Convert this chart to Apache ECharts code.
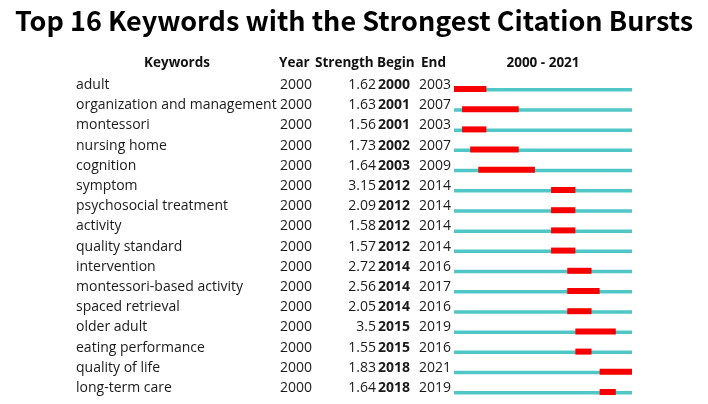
<!DOCTYPE html>
<html>
<head>
<meta charset="utf-8">
<script src="https://cdn.jsdelivr.net/npm/echarts@6/dist/echarts.min.js"></script>
<style>
  html, body { margin: 0; padding: 0; background: #fff; }
  #chart { width: 708px; height: 404px; }
</style>
</head>
<body>
<div id="chart"></div>
<script>
var keywords = ['adult', 'organization and management', 'montessori', 'nursing home', 'cognition',
  'symptom', 'psychosocial treatment', 'activity', 'quality standard', 'intervention',
  'montessori-based activity', 'spaced retrieval', 'older adult', 'eating performance',
  'quality of life', 'long-term care'];
var years = [2000, 2000, 2000, 2000, 2000, 2000, 2000, 2000, 2000, 2000, 2000, 2000, 2000, 2000, 2000, 2000];
var strengths = ['1.62', '1.63', '1.56', '1.73', '1.64', '3.15', '2.09', '1.58', '1.57', '2.72',
  '2.56', '2.05', '3.5', '1.55', '1.83', '1.64'];
var begins = [2000, 2001, 2001, 2002, 2003, 2012, 2012, 2012, 2012, 2014, 2014, 2014, 2015, 2015, 2018, 2018];
var ends = [2003, 2007, 2003, 2007, 2009, 2014, 2014, 2014, 2014, 2016, 2017, 2016, 2019, 2016, 2021, 2019];
var rangeStart = 2000;
var rangeEnd = 2021;

var FONT = 'Open Sans';
var idx = keywords.map(function (k, i) { return i; });

var chart = echarts.init(document.getElementById('chart'));

// one text column = one y axis in the text grid
var textAxis = function (offset, align, values, bold) {
  return {
    type: 'category', gridIndex: 1, inverse: true, position: 'left', offset: offset,
    data: idx,
    axisLine: { show: false }, axisTick: { show: false }, splitLine: { show: false },
    axisLabel: {
      margin: 0, align: align, color: '#1a1a1a', fontFamily: FONT, fontSize: 14,
      fontWeight: bold ? 'bold' : 'normal',
      formatter: function (v) { return values[v]; }
    }
  };
};

var header = function (x, text, align) {
  return {
    type: 'text', x: x, y: 63,
    style: { text: text, font: 'bold 13.5px "Open Sans"', fill: '#111', textAlign: align, textVerticalAlign: 'middle' }
  };
};

var option = {
  backgroundColor: '#fff',
  animation: false,
  title: {
    text: 'Top 16 Keywords with the Strongest Citation Bursts',
    left: 'center', top: 2,
    textStyle: { fontFamily: 'Noto Sans CJK SC', fontWeight: 'bold', fontSize: 27, color: '#000' }
  },
  graphic: [
    header(177, 'Keywords', 'center'),
    header(279, 'Year', 'left'),
    header(315, 'Strength', 'left'),
    header(377, 'Begin', 'left'),
    header(421, 'End', 'left'),
    header(543, '2000 - 2021', 'center')
  ],
  grid: [
    { left: 454, right: 76, top: 79.4, bottom: 1.4 },
    { left: 454, right: 76, top: 75, bottom: 5.8 }
  ],
  xAxis: [
    { type: 'value', gridIndex: 0, min: rangeStart, max: rangeEnd + 1, show: false },
    { type: 'value', gridIndex: 1, min: 0, max: 1, show: false }
  ],
  yAxis: [
    { type: 'category', gridIndex: 0, inverse: true, data: idx, show: false },
    textAxis(378, 'left', keywords, false),
    textAxis(174, 'left', years, false),
    textAxis(78, 'right', strengths, false),
    textAxis(76, 'left', begins, true),
    textAxis(35, 'left', ends, false)
  ],
  series: [{
    type: 'custom',
    xAxisIndex: 0, yAxisIndex: 0,
    data: idx.map(function (i) { return [i, begins[i], ends[i]]; }),
    renderItem: function (params, api) {
      var row = api.value(0);
      var a = api.coord([rangeStart, row]);
      var b = api.coord([rangeEnd + 1, row]);
      var s = api.coord([api.value(1), row]);
      var e = api.coord([api.value(2) + 1, row]);
      return {
        type: 'group',
        children: [
          { type: 'rect', shape: { x: a[0], y: a[1] - 1.5, width: b[0] - a[0], height: 3.5 },
            style: { fill: '#4fc7c7' } },
          { type: 'rect', shape: { x: s[0], y: s[1] - 3.5, width: e[0] - s[0], height: 6 },
            style: { fill: '#f80000' } }
        ]
      };
    }
  }]
};

chart.setOption(option);
</script>
</body>
</html>
